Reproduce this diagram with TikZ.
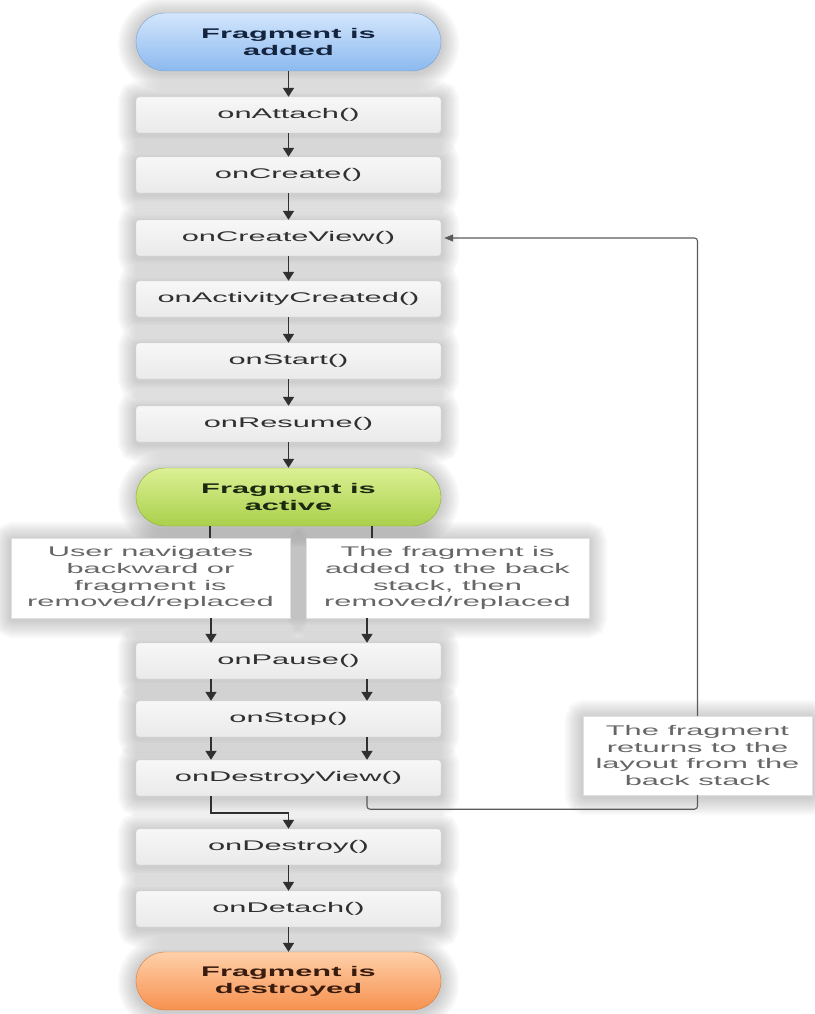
\documentclass[tikz,border=0pt]{standalone}
\usepackage{fontspec}
\setmainfont{Liberation Sans}[FakeStretch=2.2]
\usetikzlibrary{arrows.meta,backgrounds}
\definecolor{boxtop}{HTML}{F7F7F7}
\definecolor{boxbot}{HTML}{EAEAEA}
\definecolor{boxline}{HTML}{D0D0D0}
\definecolor{methodtext}{HTML}{303030}
\definecolor{notetext}{HTML}{666666}
\definecolor{noteline}{HTML}{E0E0E0}
\definecolor{arrowc}{HTML}{303030}
\definecolor{backc}{HTML}{5A5A5A}
\definecolor{bluetop}{HTML}{D3E6FC}
\definecolor{bluebot}{HTML}{8CB9EF}
\definecolor{blueline}{HTML}{7B9FCF}
\definecolor{bluetext}{HTML}{14243E}
\definecolor{greentop}{HTML}{DCF094}
\definecolor{greenbot}{HTML}{A9D04C}
\definecolor{greenline}{HTML}{8CAA3C}
\definecolor{greentext}{HTML}{1C2810}
\definecolor{orangetop}{HTML}{FFD0AA}
\definecolor{orangebot}{HTML}{F6914F}
\definecolor{orangeline}{HTML}{D27B41}
\definecolor{orangetext}{HTML}{3A1C0E}
\begin{document}
\begin{tikzpicture}[x=1pt,y=-1pt,
  method/.style={rectangle, rounded corners=3pt, draw=boxline, top color=boxtop, bottom color=boxbot,
    minimum width=305pt, minimum height=36pt, inner sep=0pt, text=methodtext,
    font=\fontsize{14}{17}\selectfont},
  state/.style={rectangle, rounded corners=29pt, minimum width=305pt, minimum height=58pt,
    inner sep=0pt, align=center, font=\bfseries\fontsize{14}{17}\selectfont},
  note/.style={rectangle, fill=white, draw=noteline, text=notetext, align=center, inner sep=0pt,
    font=\fontsize{14}{16.8}\selectfont},
  halo/.style={draw=black, draw opacity=0.022, line width=#1},
  flow/.style={-{Triangle[length=9pt,width=11pt]}, draw=arrowc, line width=1.7pt},
  link/.style={draw=arrowc, line width=1.7pt},
  back/.style={draw=backc, line width=1.1pt, rounded corners=3pt}]

\useasboundingbox (0,0) rectangle (814,1014);

% states
\node[state, draw=blueline, top color=bluetop, bottom color=bluebot, text=bluetext]
  (added) at (288.5,42) {Fragment is\\added};
\node[state, draw=greenline, top color=greentop, bottom color=greenbot, text=greentext]
  (active) at (288.5,497) {Fragment is\\active};
\node[state, draw=orangeline, top color=orangetop, bottom color=orangebot, text=orangetext]
  (destroyed) at (288.5,981) {Fragment is\\destroyed};

% methods
\node[method] (attach)   at (288.5,115) {onAttach()};
\node[method] (create)   at (288.5,175) {onCreate()};
\node[method] (cview)    at (288.5,238) {onCreateView()};
\node[method] (actcr)    at (288.5,299) {onActivityCreated()};
\node[method] (start)    at (288.5,361) {onStart()};
\node[method] (resume)   at (288.5,424) {onResume()};
\node[method] (pause)    at (288.5,661) {onPause()};
\node[method] (stop)     at (288.5,719) {onStop()};
\node[method] (dview)    at (288.5,778) {onDestroyView()};
\node[method] (destroy)  at (288.5,847) {onDestroy()};
\node[method] (detach)   at (288.5,909) {onDetach()};

% notes
\node[note, minimum width=279pt, minimum height=80pt] (lnote) at (150.5,578)
  {User navigates\\backward or\\fragment is\\removed/replaced};
\node[note, minimum width=283pt, minimum height=80pt] (rnote) at (447.5,578)
  {The fragment is\\added to the back\\stack, then\\removed/replaced};
\node[note, minimum width=229pt, minimum height=79pt] (ret) at (697.5,755.5)
  {The fragment\\returns to the\\layout from the\\back stack};

% soft shadows behind every box
\begin{scope}[on background layer]
  \foreach \w in {36,32,28,24,20,16,12,8,4} {
    \foreach \n in {attach,create,cview,actcr,start,resume,pause,stop,dview,destroy,detach,lnote,rnote,ret} {
      \draw[halo=\w pt, rounded corners=3pt] ([yshift=-2pt]\n.north west) rectangle ([yshift=-2pt]\n.south east);
    }
    \foreach \n in {added,active,destroyed} {
      \draw[halo=\w pt, rounded corners=29pt] ([yshift=-2pt]\n.north west) rectangle ([yshift=-2pt]\n.south east);
    }
  }
\end{scope}

% column helpers
\coordinate (La) at (210,0);
\coordinate (Ra) at (372,0);
\coordinate (L) at (211,0);
\coordinate (R) at (367,0);

% main chain
\draw[flow] (added) -- (attach);
\draw[flow] (attach) -- (create);
\draw[flow] (create) -- (cview);
\draw[flow] (cview) -- (actcr);
\draw[flow] (actcr) -- (start);
\draw[flow] (start) -- (resume);
\draw[flow] (resume) -- (active);

% split
\draw[link] (active.south -| La) -- (lnote.north -| La);
\draw[link] (active.south -| Ra) -- (rnote.north -| Ra);
\draw[flow] (lnote.south -| L) -- (pause.north -| L);
\draw[flow] (rnote.south -| R) -- (pause.north -| R);
\draw[flow] (pause.south -| L) -- (stop.north -| L);
\draw[flow] (pause.south -| R) -- (stop.north -| R);
\draw[flow] (stop.south -| L) -- (dview.north -| L);
\draw[flow] (stop.south -| R) -- (dview.north -| R);

% merge to onDestroy
\draw[flow] (dview.south -| L) -- ++(0,17) -| (destroy.north);

% back stack loop
\draw[back] (dview.south -| R) -- ++(0,13) -| (ret.south);
\draw[back, -{Triangle[length=9pt,width=7pt]}, shorten >=3pt] (ret.north) |- (cview.east);

\draw[flow] (destroy) -- (detach);
\draw[flow] (detach) -- (destroyed);
\end{tikzpicture}
\end{document}
